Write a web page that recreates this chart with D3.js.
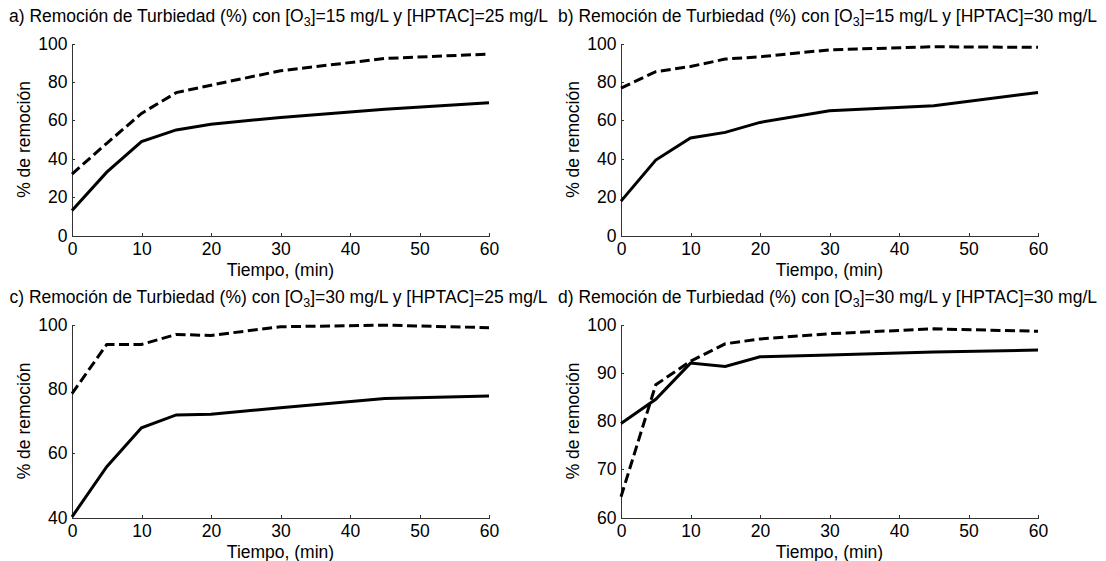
<!DOCTYPE html>
<html>
<head>
<meta charset="utf-8">
<script src="https://cdnjs.cloudflare.com/ajax/libs/d3/7.8.5/d3.min.js"></script>
<style>
  body { margin: 0; background: #fff; }
  svg { display: block; font-family: "Liberation Sans", Arial, sans-serif; }
  .axis path, .axis line { stroke: #333; stroke-width: 1; shape-rendering: crispEdges; }
  .axis text { font-size: 17.5px; fill: #000; }
</style>
</head>
<body>
<div id="chart"></div>
<script>
const WIDTH = 1106;
const HEIGHT = 561;
const FONT_SIZE = 17.5;

// Tiempo de muestreo (min)
const TIEMPO = [0, 5, 10, 15, 20, 30, 45, 60];
const X_TICKS = [0, 10, 20, 30, 40, 50, 60];

// Etiquetas de cada panel
const LETRAS = ['a', 'b', 'c', 'd'];
const OZONO = [15, 15, 30, 30];
const HPTAC = [25, 30, 25, 30];

// % de remoción, línea continua
const A_CONTINUA = [13, 33, 48.9, 55, 57.9, 61.5, 65.7, 69.2];
const B_CONTINUA = [17.9, 39.3, 50.8, 53.7, 58.9, 65, 67.6, 74.5];
const C_CONTINUA = [40.2, 55.8, 67.9, 71.9, 72.1, 74.1, 77, 77.8];
const D_CONTINUA = [79.5, 84.5, 92, 91.3, 93.3, 93.7, 94.3, 94.7];

// % de remoción, línea discontinua
const A_DISCONTINUA = [32, 48, 63.6, 74.4, 78.3, 85.8, 92.2, 94.5];
const B_DISCONTINUA = [76.8, 85.3, 88, 91.9, 93.1, 96.7, 98.3, 98];
const C_DISCONTINUA = [78.5, 93.8, 93.8, 96.9, 96.6, 99.3, 99.8, 99];
const D_DISCONTINUA = [64.3, 87.5, 92.4, 96, 97, 98.1, 99.1, 98.6];

// Rango y marcas del eje Y de cada panel
const Y_DOMINIOS = [[0, 100], [0, 100], [40, 100], [60, 100]];
const Y_TICKS = [
  [0, 20, 40, 60, 80, 100],
  [0, 20, 40, 60, 80, 100],
  [40, 60, 80, 100],
  [60, 70, 80, 90, 100]
];

const CONTINUAS = [A_CONTINUA, B_CONTINUA, C_CONTINUA, D_CONTINUA];
const DISCONTINUAS = [A_DISCONTINUA, B_DISCONTINUA, C_DISCONTINUA, D_DISCONTINUA];

// Caja de ejes de cada panel [izq, der, arriba, abajo]
const CAJAS = [
  [72, 489, 43.5, 235.5],
  [621, 1038, 43.5, 235.5],
  [72, 489, 324.5, 517.5],
  [621, 1038, 324.5, 517.5]
];

const svg = d3.select('#chart')
  .append('svg')
  .attr('width', WIDTH)
  .attr('height', HEIGHT);

for (let i = 0; i < 4; i++) {
  drawPanel(i);
}

function drawPanel(i) {
  const [left, right, top, bottom] = CAJAS[i];

  const xScale = d3.scaleLinear().domain([0, 60]).range([left, right]);
  const yScale = d3.scaleLinear().domain(Y_DOMINIOS[i]).range([bottom, top]);

  const g = svg.append('g');

  // Título con subíndice
  const title = g.append('text')
    .attr('x', (left + right) / 2 - 2)
    .attr('y', top - 21.5)
    .attr('text-anchor', 'middle')
    .style('font-size', FONT_SIZE + 'px');
  title.append('tspan').text(LETRAS[i] + ') Remoción de Turbiedad (%) con [O');
  title.append('tspan').attr('dy', 4).style('font-size', '12.5px').text('3');
  title.append('tspan').attr('dy', -4).text(']=' + OZONO[i] + ' mg/L y [HPTAC]=' + HPTAC[i] + ' mg/L');

  // Ejes con marcas hacia dentro
  const xAxis = d3.axisBottom(xScale)
    .tickValues(X_TICKS)
    .tickSize(-3)
    .tickSizeOuter(0)
    .tickPadding(7);
  g.append('g')
    .attr('class', 'axis')
    .attr('transform', 'translate(0,' + bottom + ')')
    .call(xAxis);

  const yAxis = d3.axisLeft(yScale)
    .tickValues(Y_TICKS[i])
    .tickSize(-3)
    .tickSizeOuter(0)
    .tickPadding(4.5);
  g.append('g')
    .attr('class', 'axis')
    .attr('transform', 'translate(' + left + ',0)')
    .call(yAxis);

  // Rótulos de los ejes
  g.append('text')
    .attr('x', (left + right) / 2)
    .attr('y', bottom + 40.5)
    .attr('text-anchor', 'middle')
    .style('font-size', FONT_SIZE + 'px')
    .text('Tiempo, (min)');

  g.append('text')
    .attr('transform', 'translate(' + (left - 48) + ',' + ((top + bottom) / 2) + ') rotate(-90)')
    .attr('text-anchor', 'middle')
    .attr('dy', '0.35em')
    .style('font-size', FONT_SIZE + 'px')
    .text('% de remoción');

  const line = d3.line()
    .x((d, j) => xScale(TIEMPO[j]))
    .y(d => yScale(d));

  g.append('path')
    .datum(DISCONTINUAS[i])
    .attr('d', line)
    .attr('fill', 'none')
    .attr('stroke', '#000')
    .attr('stroke-width', 3)
    .attr('stroke-dasharray', '10,4.5');

  g.append('path')
    .datum(CONTINUAS[i])
    .attr('d', line)
    .attr('fill', 'none')
    .attr('stroke', '#000')
    .attr('stroke-width', 3);
}
</script>
</body>
</html>
